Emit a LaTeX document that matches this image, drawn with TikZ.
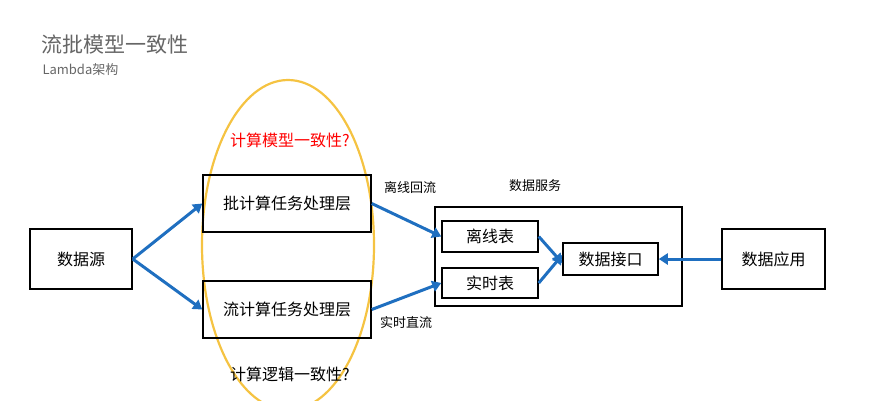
\documentclass[tikz,border=0pt]{standalone}
\usepackage{fontspec}
\setmainfont{Noto Sans CJK SC}
\usetikzlibrary{arrows.meta}
\definecolor{ablue}{HTML}{1F6FC0}
\definecolor{ayel}{HTML}{F5C342}
\tikzset{
 box/.style={draw,line width=1.5pt,minimum height=57pt,font=\fontsize{16}{16}\selectfont},
 sbox/.style={draw,line width=1.5pt,font=\fontsize{16}{16}\selectfont,inner sep=0pt},
 arr/.style={draw=ablue,line width=3pt,-{Triangle[length=9pt,width=11pt]}},
 lbl/.style={font=\fontsize{13}{13}\selectfont}
}
\begin{document}
\begin{tikzpicture}[x=1pt,y=-1pt]
\useasboundingbox (0,0) rectangle (888,400);
\node[anchor=west,text=black!60,font=\fontsize{21}{21}\selectfont] (t) at (38,45) {流批模型一致性};
\node[anchor=west,text=black!60,font=\fontsize{13}{13}\selectfont] (st) at (39,70) {Lambda架构};
\draw[ayel,line width=2.2pt] (288,245) ellipse [x radius=86, y radius=165];
\node[text=red,font=\fontsize{16}{16}\selectfont] (q1) at (290,140) {计算模型一致性?};
\node[font=\fontsize{16}{16}\selectfont] (q2) at (290,374) {计算逻辑一致性?};
\node[box,minimum width=102pt,minimum height=60pt] (src) at (81,259) {数据源};
\node[box,minimum width=168pt] (batch) at (287,203.5) {批计算任务处理层};
\node[box,minimum width=168pt] (strm) at (287,309.5) {流计算任务处理层};
\node[draw,line width=1.5pt,minimum width=247pt,minimum height=99pt] (svc) at (558.5,256.5) {};
\node[lbl] (svcl) at (535,186) {数据服务};
\node[sbox,minimum width=96pt,minimum height=31pt] (off) at (490,236.5) {离线表};
\node[sbox,minimum width=96pt,minimum height=30pt] (rt) at (490,283) {实时表};
\node[sbox,minimum width=95pt,minimum height=32pt] (api) at (610.5,259) {数据接口};
\node[box,minimum width=103pt,minimum height=60pt] (app) at (773.5,259) {数据应用};
\node[lbl] (l1) at (410,188) {离线回流};
\node[lbl] (l2) at (406,322) {实时直流};
\draw[arr] (src.east) -- (batch.west);
\draw[arr] (src.east) -- (strm.west);
\draw[arr] (batch.east) -- (off.west);
\draw[arr] (strm.east) -- (rt.west);
\draw[arr] (off.east) -- ([yshift=-4pt]api.west);
\draw[arr] (rt.east) -- ([yshift=4pt]api.west);
\draw[arr] (app.west) -- (api.east);
\end{tikzpicture}
\end{document}
